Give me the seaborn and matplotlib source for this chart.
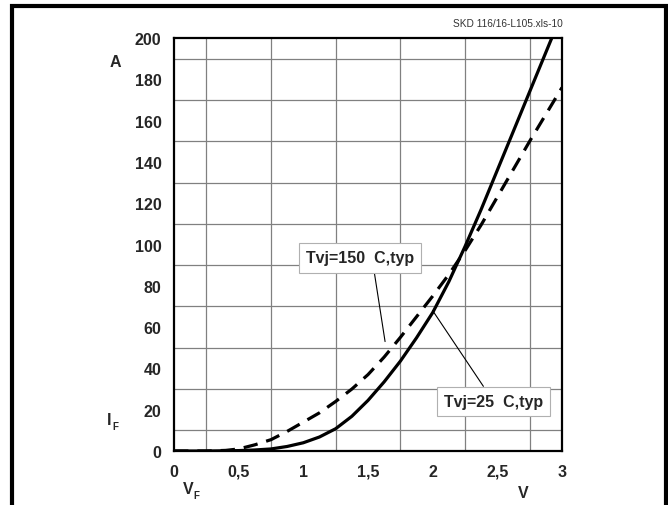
import matplotlib
matplotlib.use("Agg")
import matplotlib.pyplot as plt
import seaborn as sns
import pandas as pd
from matplotlib.patches import Rectangle

# Forward characteristic I_F = f(V_F), typical values
vf_25 = [0.0, 0.25, 0.5, 0.625, 0.75, 0.875, 1.0, 1.125, 1.25, 1.375, 1.5, 1.625, 1.75, 1.875, 2.0, 2.125, 2.25, 2.375, 2.5, 2.625, 2.75, 2.875, 3.0]
if_25 = [0.0, 0.0, 0.2, 0.5, 1.0, 2.2, 4.0, 6.8, 10.8, 16.8, 24.5, 33.5, 43.5, 54.8, 67.0, 82.0, 99.0, 117.0, 136.0, 155.0, 174.0, 193.0, 212.0]

vf_150 = [0.0, 0.25, 0.4, 0.5, 0.625, 0.75, 0.875, 1.0, 1.125, 1.25, 1.375, 1.5, 1.625, 1.75, 1.875, 2.0, 2.125, 2.25, 2.375, 2.5, 2.625, 2.75, 2.875, 3.0]
if_150 = [0.0, 0.0, 0.3, 1.0, 3.0, 5.5, 9.5, 14.0, 18.5, 24.0, 30.0, 37.0, 45.5, 55.0, 65.0, 75.0, 85.5, 97.0, 109.5, 123.0, 136.5, 150.0, 163.0, 176.0]

x_ticks = [0, 0.5, 1, 1.5, 2, 2.5, 3]
x_tick_labels = ["0", "0,5", "1", "1,5", "2", "2,5", "3"]
y_ticks = [0, 20, 40, 60, 80, 100, 120, 140, 160, 180, 200]

sns.set_style("white")
plt.rcParams["font.family"] = ["Liberation Sans", "DejaVu Sans"]

df25 = pd.DataFrame({"V": vf_25, "I": if_25})
df150 = pd.DataFrame({"V": vf_150, "I": if_150})

fig = plt.figure(figsize=(6.68, 5.06), dpi=100)
ax = fig.add_axes([0.2605, 0.1067, 0.5808, 0.8162])

sns.lineplot(data=df25, x="V", y="I", ax=ax, color="black", lw=2.3, zorder=4)
sns.lineplot(data=df150, x="V", y="I", ax=ax, color="black", lw=2.3, zorder=4)
ax.lines[-1].set_dashes((4.5, 2.8))

ax.set_xlim(0, 3)
ax.set_ylim(0, 200)

# grid: every 0.25 V and every 10 A
ax.set_xticks([i * 0.25 for i in range(13)], minor=True)
ax.set_yticks([i * 10 for i in range(21)], minor=True)
ax.grid(which="minor", color="#808080", lw=0.9)
ax.set_axisbelow(True)

tick_fs = 11.5
ax.set_xticks(x_ticks)
ax.set_xticklabels(x_tick_labels, fontweight="bold", fontsize=tick_fs)
ax.set_yticks(y_ticks)
ax.set_yticklabels([str(v) for v in y_ticks], fontweight="bold", fontsize=tick_fs)
ax.tick_params(axis="both", which="both", length=0)
ax.tick_params(axis="x", pad=9)
ax.tick_params(axis="y", pad=9)
ax.set_xlabel("")
ax.set_ylabel("")

for s in ax.spines.values():
    s.set_color("black")
    s.set_linewidth(1.6)

# axis unit labels
def fig_xy(px, py):
    return px / 668, 1 - py / 506

fig.text(*fig_xy(115, 63), "A", fontsize=tick_fs, fontweight="bold", ha="center", va="center")
fig.text(*fig_xy(109, 421), "I", fontsize=tick_fs, fontweight="bold", ha="center", va="center")
fig.text(*fig_xy(112, 427), "F", fontsize=7, fontweight="bold", ha="left", va="center")
fig.text(*fig_xy(188, 490), "V", fontsize=tick_fs, fontweight="bold", ha="center", va="center")
fig.text(*fig_xy(193, 496), "F", fontsize=7, fontweight="bold", ha="left", va="center")
fig.text(*fig_xy(523, 494), "V", fontsize=tick_fs, fontweight="bold", ha="center", va="center")
fig.text(*fig_xy(508, 24), "SKD 116/16-L105.xls-10", fontsize=7.3, color="#333333",
         ha="center", va="center")

# curve annotations
box = dict(boxstyle="square,pad=0.45", fc="white", ec="#b0b0b0", lw=0.8)
ax.annotate("Tvj=150  C,typ", xy=(1.632, 53), xytext=(1.44, 93.5),
            fontsize=tick_fs, fontweight="bold", ha="center", va="center", bbox=box,
            arrowprops=dict(arrowstyle="-", color="black", lw=0.8, shrinkA=0, shrinkB=0,
                            relpos=(0.62, 0.0)), zorder=6)
ax.annotate("Tvj=25  C,typ", xy=(2.0, 68), xytext=(2.47, 24),
            fontsize=tick_fs, fontweight="bold", ha="center", va="center", bbox=box,
            arrowprops=dict(arrowstyle="-", color="black", lw=0.8, shrinkA=0, shrinkB=0,
                            relpos=(0.45, 1.0)), zorder=6)

# outer frame
fig.patches.append(Rectangle((11.5 / 668, -0.05), (665.5 - 11.5) / 668, 1.05 - 6.5 / 506,
                             transform=fig.transFigure, fill=False, ec="black", lw=3))

fig.savefig("out.png", dpi=100)
